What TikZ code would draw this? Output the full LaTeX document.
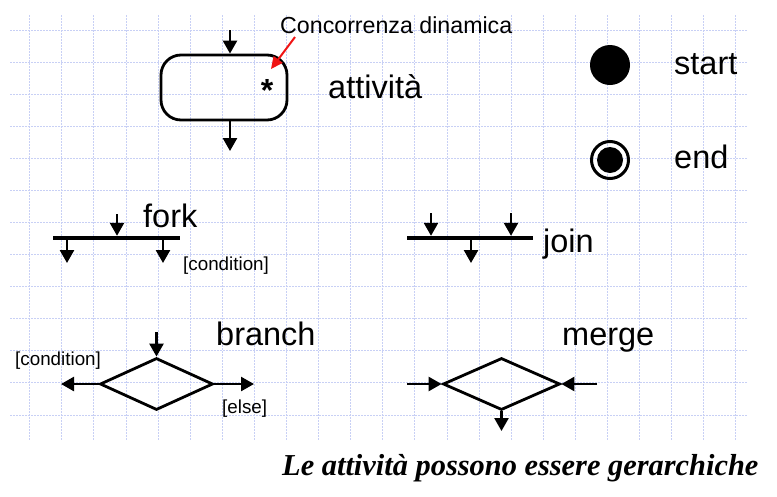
\documentclass[tikz,border=0pt]{standalone}
\usepackage{fontspec}
\setmainfont{Liberation Sans}
\newfontfamily\titlefont{Liberation Serif}
\usetikzlibrary{arrows.meta,shapes.geometric}
\definecolor{gridc}{RGB}{200,208,245}
\definecolor{redc}{RGB}{240,20,20}
\tikzset{
  arr/.style={line width=2.5pt,-{Triangle[length=13pt,width=14pt]}},
  redarr/.style={line width=2pt,draw=redc,-{Triangle[length=12pt,width=11pt]},color=redc},
  actbox/.style={draw,line width=2.8pt,rounded corners=20pt,minimum width=126pt,minimum height=65pt,inner sep=0pt},
  barbox/.style={fill=black,minimum height=4pt,inner sep=0pt},
  dia/.style={diamond,draw,line width=2.8pt,inner sep=0pt},
  biglab/.style={anchor=base west,inner sep=0pt,font=\fontsize{32.5}{36}\selectfont},
  smalllab/.style={anchor=base west,inner sep=0pt,font=\fontsize{18.8}{22}\selectfont},
  gridline/.style={draw=gridc,line width=0.9pt,dash pattern=on 2pt off 1pt}
}
\begin{document}
\begin{tikzpicture}[x=1pt,y=-1pt]
\useasboundingbox (0,0) rectangle (777,496);
% grid
\foreach \k in {0,...,22} \draw[gridline] ({29.7+32.1*\k},15) -- ({29.7+32.1*\k},440);
\foreach \k in {0,...,12} \draw[gridline] (10,{30+32.08*\k}) -- (747,{30+32.08*\k});

% activity
\node[actbox] (act) at (224,87.5) {};
\coordinate (actin) at (230,30);
\coordinate (actout) at (230,151);
\draw[arr] (actin) -- (actin |- act.north);
\draw[arr] (actout |- act.south) -- (actout);
\node[anchor=base,inner sep=0pt,font=\bfseries\fontsize{32}{34}\selectfont] (star) at (267,101) {*};
\node[anchor=base west,inner sep=0pt,font=\fontsize{23.2}{26}\selectfont] (conc) at (280,33) {Concorrenza dinamica};
\coordinate (redstart) at (295,37);
\coordinate (redend) at (271,69);
\draw[redarr] (redstart) -- (redend);
\node[biglab] (lact) at (328,98) {attività};

% start / end
\node[circle,fill=black,minimum size=40pt,inner sep=0pt] (start) at (610,65) {};
\node[biglab] (lstart) at (674,74) {start};
\node[circle,draw=black,line width=3pt,minimum size=37pt,inner sep=0pt] (endo) at (610,160) {};
\node[circle,fill=black,minimum size=26pt,inner sep=0pt] (endi) at (610,160) {};
\node[biglab] (lend) at (674,168) {end};

% fork
\node[barbox,minimum width=127pt] (fork) at (116.5,238) {};
\coordinate (forkin) at (117,214);
\coordinate (forkoa) at (67,263);
\coordinate (forkob) at (163,263);
\draw[arr] (forkin) -- (forkin |- fork.north);
\draw[arr] (forkoa |- fork.south) -- (forkoa);
\draw[arr] (forkob |- fork.south) -- (forkob);
\node[biglab] (lfork) at (143,227) {fork};
\node[smalllab] (fcond) at (183,270) {[condition]};

% join
\node[barbox,minimum width=126pt] (join) at (470,238) {};
\coordinate (joinia) at (431,213);
\coordinate (joinib) at (511,213);
\coordinate (joino) at (471,263);
\draw[arr] (joinia) -- (joinia |- join.north);
\draw[arr] (joinib) -- (joinib |- join.north);
\draw[arr] (joino |- join.south) -- (joino);
\node[biglab] (ljoin) at (543,252) {join};

% branch
\node[dia,minimum width=113pt,minimum height=52pt] (branch) at (156.5,384) {};
\coordinate (brin) at (156.5,332);
\coordinate (brl) at (61,384);
\coordinate (brr) at (254,384);
\draw[arr] (brin) -- (branch.north);
\draw[arr] (branch.west) -- (brl);
\draw[arr] (branch.east) -- (brr);
\node[biglab] (lbranch) at (216,345) {branch};
\node[smalllab] (bcond) at (15,365) {[condition]};
\node[smalllab] (belse) at (222,413) {[else]};

% merge
\node[dia,minimum width=117pt,minimum height=52pt] (merge) at (501.5,384) {};
\coordinate (mgl) at (407,384);
\coordinate (mgr) at (597,384);
\coordinate (mgo) at (501.5,431);
\draw[arr] (mgl) -- (merge.west);
\draw[arr] (mgr) -- (merge.east);
\draw[arr] (merge.south) -- (mgo);
\node[biglab] (lmerge) at (562,345) {merge};

% title
\node[anchor=base west,inner sep=0pt,font=\titlefont\bfseries\itshape\fontsize{30.4}{34}\selectfont] (title) at (282,475) {Le attività possono essere gerarchiche};
\end{tikzpicture}
\end{document}
